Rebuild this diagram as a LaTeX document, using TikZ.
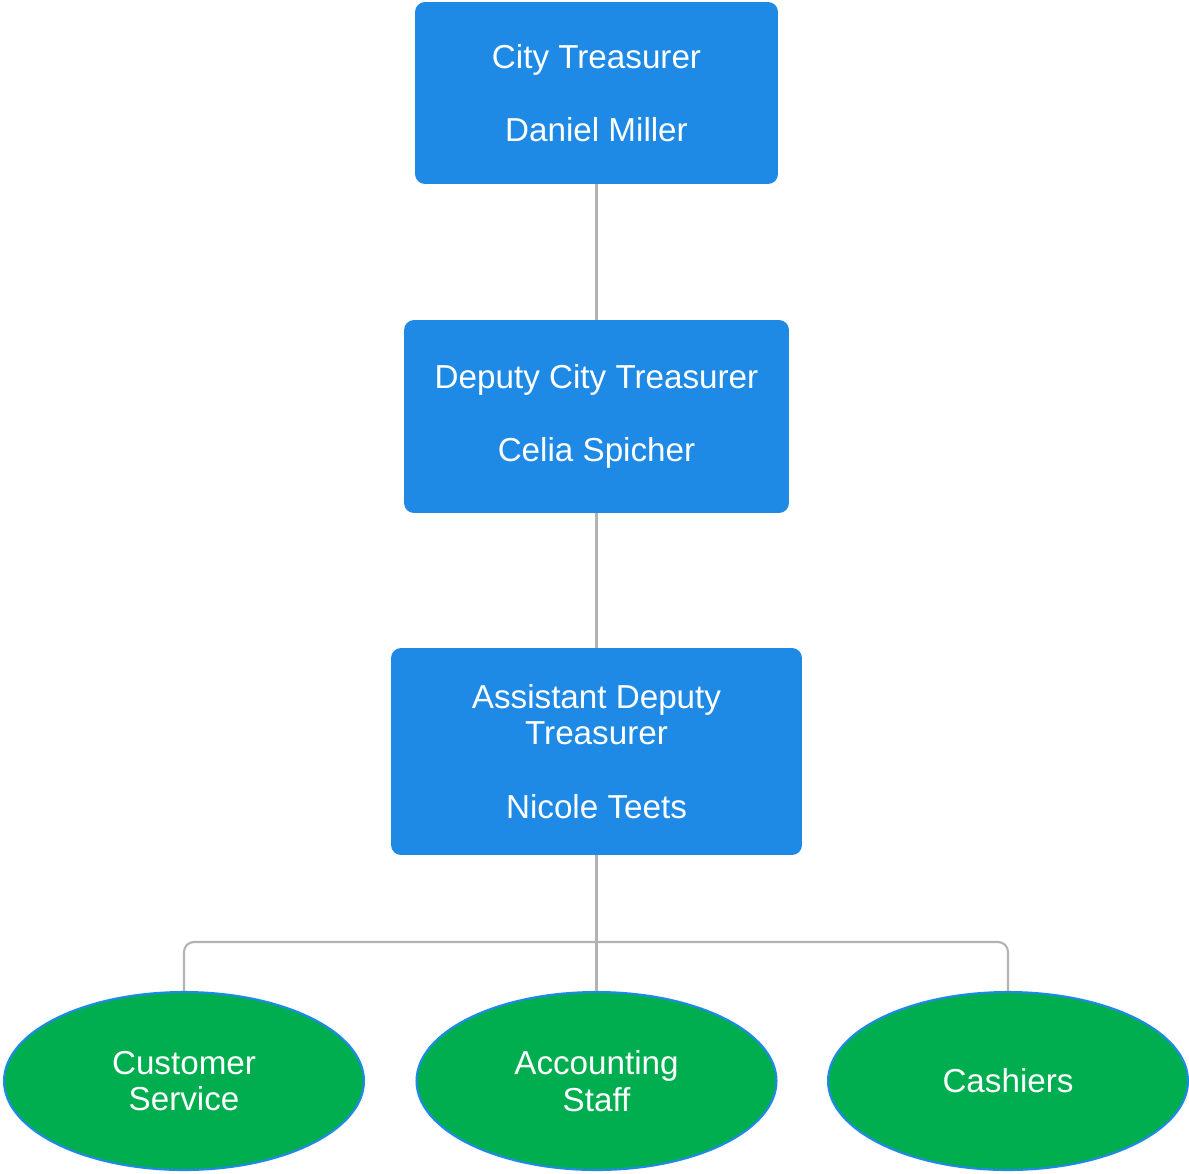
\documentclass[tikz,border=0pt]{standalone}
\usepackage{fontspec}
\setmainfont{Liberation Sans}
\usetikzlibrary{shapes.geometric}
\definecolor{boxblue}{HTML}{1E8AE5}
\definecolor{ellgreen}{HTML}{00AE50}
\definecolor{conngray}{HTML}{B3B3B3}
\tikzset{
  px/.style={x=0.02cm,y=-0.02cm},
  box/.style={rectangle, rounded corners=0.2cm, fill=boxblue, draw=none, text=white,
    align=center, inner sep=0pt, font=\fontsize{18.9}{20.8}\selectfont},
  ell/.style={ellipse, fill=ellgreen, draw=boxblue, line width=1.2pt, text=white,
    align=center, inner sep=0pt, font=\fontsize{18.9}{20.8}\selectfont},
  conn/.style={draw=conngray, line width=1.2pt},
}
\begin{document}
\begin{tikzpicture}[px]
\useasboundingbox (0,0) rectangle (1189,1173);
\node[box, minimum width=7.26cm, minimum height=3.64cm] (b1) at (596.5,93) {City Treasurer\\[21pt]Daniel Miller};
\node[box, minimum width=7.70cm, minimum height=3.86cm] (b2) at (596.5,416.5) {Deputy City Treasurer\\[21pt]Celia Spicher};
\node[box, minimum width=8.22cm, minimum height=4.14cm] (b3) at (596.5,751.5) {Assistant Deputy\\Treasurer\\[21pt]Nicole Teets};
\node[ell, minimum width=7.20cm, minimum height=3.56cm] (cs) at (184,1081) {Customer\\Service};
\node[ell, minimum width=7.20cm, minimum height=3.56cm] (acc) at (596.5,1081) {Accounting\\Staff};
\node[ell, minimum width=7.20cm, minimum height=3.56cm] (cash) at (1008,1081) {Cashiers};
\coordinate (j) at (596.5,942);
\draw[conn] (b1.south) -- (b2.north);
\draw[conn] (b2.south) -- (b3.north);
\draw[conn] (b3.south) -- (j);
\draw[conn] (j) -- (acc.north);
\draw[conn, rounded corners=0.2cm] (cs.north) |- (j) -| (cash.north);
\end{tikzpicture}
\end{document}
